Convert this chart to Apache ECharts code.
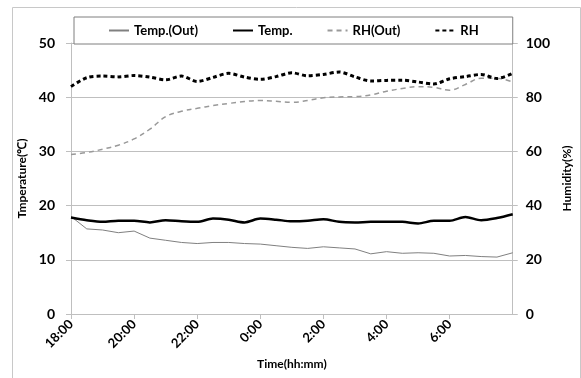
<!DOCTYPE html>
<html>
<head>
<meta charset="utf-8">
<script src="https://cdn.jsdelivr.net/npm/echarts@6/dist/echarts.min.js"></script>
<style>
  html, body { margin: 0; padding: 0; background: #fff; }
  #chart { width: 581px; height: 378px; }
</style>
</head>
<body>
<div id="chart"></div>
<script>
// hours since 18:00, every half hour
const hours = [0, 0.5, 1, 1.5, 2, 2.5, 3, 3.5, 4, 4.5, 5, 5.5, 6, 6.5, 7, 7.5, 8, 8.5, 9, 9.5, 10, 10.5, 11, 11.5, 12, 12.5, 13, 13.5, 14];

const tempOut = [18.0, 15.7, 15.5, 15.0, 15.3, 14.0, 13.6, 13.2, 13.0, 13.2, 13.2, 13.0, 12.9, 12.6, 12.3, 12.1, 12.4, 12.2, 12.0, 11.1, 11.5, 11.2, 11.3, 11.2, 10.7, 10.8, 10.6, 10.5, 11.3];
const tempIn = [17.8, 17.3, 17.0, 17.2, 17.2, 16.9, 17.3, 17.1, 17.0, 17.6, 17.4, 16.9, 17.6, 17.4, 17.1, 17.2, 17.5, 17.0, 16.9, 17.0, 17.0, 17.0, 16.7, 17.2, 17.2, 17.9, 17.3, 17.7, 18.4];
const rhOut = [58.9, 59.6, 60.8, 62.3, 64.6, 68.2, 72.8, 74.8, 75.9, 76.9, 77.7, 78.4, 78.8, 78.5, 78.1, 78.8, 79.8, 80.1, 80.2, 80.8, 82.2, 83.2, 83.9, 83.6, 82.6, 84.7, 87.0, 87.0, 85.6];
const rhIn = [83.9, 87.2, 87.8, 87.5, 88.0, 87.4, 86.4, 87.8, 85.8, 87.3, 88.8, 87.4, 86.6, 87.6, 89.0, 87.9, 88.4, 89.3, 87.5, 86.0, 86.2, 86.3, 85.6, 84.9, 86.8, 87.6, 88.4, 86.9, 88.8];

const seriesNames = ['Temp.(Out)', 'Temp.', 'RH(Out)', 'RH'];

const pairs = (ys) => hours.map((h, i) => [h, ys[i]]);

const myChart = echarts.init(document.getElementById('chart'));

const font = 'Lato, "Open Sans", sans-serif';

const option = {
    animation: false,
    backgroundColor: '#fff',
    graphic: [{
        type: 'rect',
        left: 10, top: 5,
        shape: { width: 568, height: 380 },
        style: { fill: 'none', stroke: '#c8c8c8', lineWidth: 1 },
        z: -1
    }],
    grid: { left: 71, right: 57, top: 43, bottom: 64 },
    legend: {
        data: seriesNames,
        left: 74,
        top: 17,
        padding: [7, 34, 7, 34],
        itemGap: 34,
        itemWidth: 20,
        itemHeight: 12,
        borderColor: '#7f7f7f',
        borderWidth: 1,
        backgroundColor: '#fff',
        // hide the circle marker, keep only the line
        itemStyle: { color: 'rgba(0,0,0,0)', borderColor: 'rgba(0,0,0,0)', borderWidth: 0 },
        textStyle: { fontFamily: font, fontWeight: 'bold', fontSize: 13, color: '#000' }
    },
    xAxis: {
        type: 'value',
        min: 0,
        max: 14,
        interval: 2,
        name: 'Time(hh:mm)',
        nameLocation: 'middle',
        nameGap: 44,
        nameTextStyle: { fontFamily: font, fontWeight: 'bold', fontSize: 12, color: '#000' },
        axisLine: { lineStyle: { color: '#bfbfbf' } },
        axisTick: { show: true, length: 5, lineStyle: { color: '#bfbfbf' } },
        axisLabel: {
            rotate: 45,
            margin: 8,
            showMaxLabel: false,
            fontFamily: font, fontWeight: 'bold', fontSize: 13, color: '#000',
            formatter: (v) => ((18 + v) % 24) + ':00'
        },
        splitLine: { show: false }
    },
    yAxis: [
        {
            type: 'value',
            min: 0,
            max: 50,
            interval: 10,
            name: 'Tmperature(℃)',
            nameLocation: 'middle',
            nameGap: 42,
            nameTextStyle: { fontFamily: font, fontWeight: 'bold', fontSize: 12, color: '#000' },
            axisLine: { show: true, lineStyle: { color: '#bfbfbf' } },
            axisTick: { show: true, length: 5, lineStyle: { color: '#bfbfbf' } },
            axisLabel: { margin: 16, fontFamily: font, fontWeight: 'bold', fontSize: 14, color: '#000' },
            splitLine: { lineStyle: { color: '#bfbfbf' } }
        },
        {
            type: 'value',
            min: 0,
            max: 100,
            interval: 20,
            name: 'Humidity(%)',
            nameLocation: 'middle',
            nameGap: 44,
            nameRotate: 90,
            nameTextStyle: { fontFamily: font, fontWeight: 'bold', fontSize: 12, color: '#000' },
            axisLine: { show: true, lineStyle: { color: '#bfbfbf' } },
            axisTick: { show: true, length: 5, lineStyle: { color: '#bfbfbf' } },
            axisLabel: { margin: 13, fontFamily: font, fontWeight: 'bold', fontSize: 14, color: '#000' },
            splitLine: { show: false }
        }
    ],
    series: [
        {
            name: seriesNames[0],
            type: 'line',
            yAxisIndex: 0,
            symbol: 'none',
            data: pairs(tempOut),
            lineStyle: { color: '#808080', width: 1 },
            itemStyle: { color: '#808080' }
        },
        {
            name: seriesNames[1],
            type: 'line',
            yAxisIndex: 0,
            symbol: 'none',
            smooth: 0.3,
            data: pairs(tempIn),
            lineStyle: { color: '#000', width: 2.5 },
            itemStyle: { color: '#000' }
        },
        {
            name: seriesNames[2],
            type: 'line',
            yAxisIndex: 1,
            symbol: 'none',
            smooth: 0.4,
            data: pairs(rhOut),
            lineStyle: { color: '#999', width: 1.5, type: [5, 4] },
            itemStyle: { color: '#999' }
        },
        {
            name: seriesNames[3],
            type: 'line',
            yAxisIndex: 1,
            symbol: 'none',
            smooth: 0.3,
            data: pairs(rhIn),
            lineStyle: { color: '#000', width: 3, type: [4, 3] },
            itemStyle: { color: '#000' }
        }
    ]
};

myChart.setOption(option);
</script>
</body>
</html>
